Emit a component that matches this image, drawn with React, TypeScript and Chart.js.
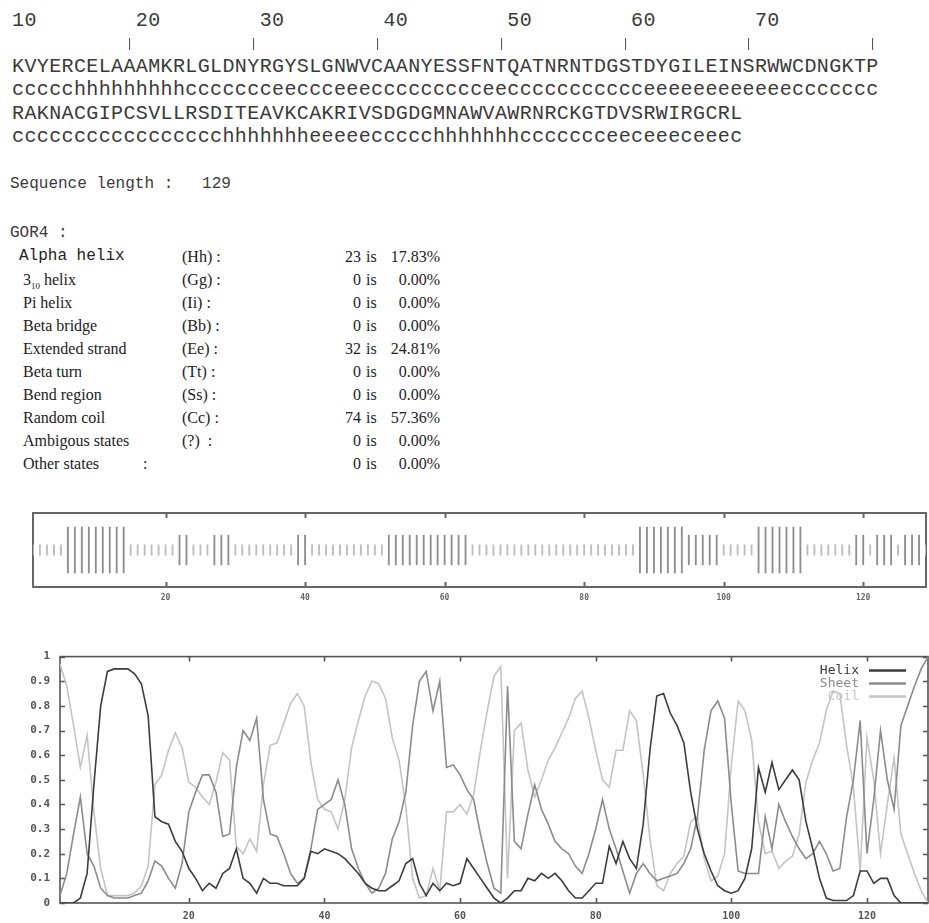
import React, { useEffect, useRef } from "react";
import { Chart, registerables } from "chart.js";

Chart.register(...registerables);

// ---------- data ----------
const SEQ_ROW1 = "KVYERCELAAAMKRLGLDNYRGYSLGNWVCAANYESSFNTQATNRNTDGSTDYGILEINSRWWCDNGKTP";
const SEQ_ROW2 = "RAKNACGIPCSVLLRSDITEAVKCAKRIVSDGDGMNAWVAWRNRCKGTDVSRWIRGCRL";
const PRED_ROW1 = ["ccccc", "hhhhhhhhh", "ccccccc", "ee", "ccc", "eee", "ccccccccc", "ee", "ccccccccccc", "eeeeeeeeeeee", "ccccccc"].join("");
const PRED_ROW2 = ["ccccccccccccccccc", "hhhhhhh", "eeeee", "ccccc", "hhhhhhh", "ccccccc", "ee", "c", "eee", "c", "eee", "c"].join("");
const POSITION_LABELS = [10, 20, 30, 40, 50, 60, 70];
const SEQUENCE_LENGTH = 129;

const statNames = ["Alpha helix", "3_10 helix", "Pi helix", "Beta bridge", "Extended strand", "Beta turn", "Bend region", "Random coil", "Ambigous states", "Other states"];
const statCodes = ["(Hh) :", "(Gg) :", "(Ii) :", "(Bb) :", "(Ee) :", "(Tt) :", "(Ss) :", "(Cc) :", "(?)  :", ":"];
const statCounts = [23, 0, 0, 0, 32, 0, 0, 74, 0, 0];
const statPercents = ["17.83%", "0.00%", "0.00%", "0.00%", "24.81%", "0.00%", "0.00%", "57.36%", "0.00%", "0.00%"];

const residues = (SEQ_ROW1 + SEQ_ROW2).split("").map((_, i) => i + 1);
const prediction = (PRED_ROW1 + PRED_ROW2).split("");

const helix = [
  0.00, 0.00, 0.00, 0.02, 0.12, 0.48, 0.80, 0.94, 0.95, 0.95,
  0.95, 0.93, 0.89, 0.76, 0.35, 0.33, 0.32, 0.25, 0.21, 0.14,
  0.10, 0.05, 0.08, 0.06, 0.12, 0.14, 0.22, 0.10, 0.08, 0.04,
  0.10, 0.08, 0.08, 0.07, 0.07, 0.07, 0.10, 0.21, 0.20, 0.22,
  0.21, 0.20, 0.18, 0.15, 0.12, 0.08, 0.06, 0.05, 0.05, 0.07,
  0.09, 0.16, 0.18, 0.08, 0.03, 0.08, 0.05, 0.08, 0.07, 0.08,
  0.18, 0.14, 0.10, 0.06, 0.02, 0.00, 0.02, 0.05, 0.05, 0.10,
  0.09, 0.12, 0.10, 0.12, 0.09, 0.05, 0.02, 0.02, 0.05, 0.08,
  0.08, 0.23, 0.16, 0.25, 0.18, 0.14, 0.32, 0.62, 0.84, 0.85,
  0.77, 0.72, 0.65, 0.45, 0.30, 0.20, 0.13, 0.07, 0.05, 0.04,
  0.05, 0.10, 0.22, 0.55, 0.45, 0.57, 0.46, 0.50, 0.54, 0.50,
  0.33, 0.22, 0.10, 0.02, 0.01, 0.01, 0.01, 0.03, 0.13, 0.13,
  0.08, 0.10, 0.10, 0.03, 0.00, 0.00, 0.00, 0.00, 0.00,
];

const sheet = [
  0.03, 0.12, 0.28, 0.43, 0.20, 0.15, 0.06, 0.03, 0.02, 0.02,
  0.02, 0.03, 0.04, 0.09, 0.17, 0.15, 0.10, 0.06, 0.16, 0.37,
  0.45, 0.52, 0.52, 0.45, 0.27, 0.28, 0.55, 0.70, 0.66, 0.75,
  0.42, 0.28, 0.27, 0.20, 0.12, 0.08, 0.10, 0.22, 0.38, 0.40,
  0.42, 0.50, 0.40, 0.22, 0.14, 0.08, 0.04, 0.06, 0.12, 0.26,
  0.33, 0.45, 0.72, 0.90, 0.94, 0.78, 0.90, 0.55, 0.56, 0.52,
  0.46, 0.42, 0.28, 0.16, 0.06, 0.04, 0.88, 0.25, 0.22, 0.36,
  0.48, 0.38, 0.32, 0.25, 0.22, 0.20, 0.15, 0.12, 0.20, 0.30,
  0.42, 0.30, 0.22, 0.13, 0.04, 0.12, 0.16, 0.12, 0.09, 0.10,
  0.11, 0.12, 0.16, 0.22, 0.35, 0.62, 0.78, 0.82, 0.75, 0.40,
  0.13, 0.12, 0.12, 0.12, 0.35, 0.22, 0.40, 0.33, 0.27, 0.22,
  0.18, 0.20, 0.25, 0.20, 0.13, 0.14, 0.35, 0.50, 0.74, 0.20,
  0.42, 0.70, 0.50, 0.38, 0.72, 0.80, 0.88, 0.95, 1.00,
];

const coil = [
  0.97, 0.88, 0.72, 0.55, 0.68, 0.37, 0.14, 0.03, 0.03, 0.03,
  0.03, 0.04, 0.07, 0.15, 0.48, 0.52, 0.62, 0.69, 0.63, 0.49,
  0.47, 0.43, 0.40, 0.49, 0.61, 0.58, 0.23, 0.20, 0.26, 0.21,
  0.48, 0.64, 0.65, 0.73, 0.81, 0.85, 0.80, 0.57, 0.42, 0.38,
  0.37, 0.30, 0.42, 0.63, 0.74, 0.84, 0.90, 0.89, 0.83, 0.67,
  0.58, 0.39, 0.10, 0.02, 0.03, 0.14, 0.05, 0.37, 0.37, 0.40,
  0.36, 0.44, 0.62, 0.78, 0.92, 0.96, 0.10, 0.70, 0.73, 0.54,
  0.43, 0.50, 0.58, 0.63, 0.69, 0.75, 0.83, 0.86, 0.75, 0.62,
  0.50, 0.47, 0.62, 0.62, 0.78, 0.74, 0.52, 0.26, 0.07, 0.05,
  0.12, 0.16, 0.19, 0.33, 0.35, 0.18, 0.09, 0.11, 0.20, 0.56,
  0.82, 0.78, 0.66, 0.33, 0.20, 0.21, 0.14, 0.17, 0.19, 0.28,
  0.49, 0.58, 0.65, 0.78, 0.86, 0.85, 0.64, 0.47, 0.13, 0.67,
  0.50, 0.20, 0.40, 0.59, 0.28, 0.20, 0.12, 0.05, 0.00,
];

const xTicks = [20, 40, 60, 80, 100, 120];
const yTicks = [0, 0.1, 0.2, 0.3, 0.4, 0.5, 0.6, 0.7, 0.8, 0.9, 1];

// ---------- styles ----------
const HELIX_COLOR = "#3c3c3c";
const SHEET_COLOR = "#8c8c8c";
const COIL_COLOR = "#c4c4c4";
const MONO = "'Liberation Mono', 'DejaVu Sans Mono', monospace";
const SERIF = "'Liberation Serif', 'Times New Roman', serif";
const TICK_FONT = "'DejaVu Sans Mono', monospace";
const TEXT_COLOR = "#3a3a3a";
const CHAR_W = 12.38;

// bar extents for the per-residue barcode, by predicted state
const STATE_EXTENT: Record<string, [number, number]> = { h: [0.19, 0.81], e: [0.3, 0.7], c: [0.43, 0.57] };
const STATE_COLOR: Record<string, string> = { h: "#8e8e8e", e: "#8e8e8e", c: "#bdbdbd" };

function makeFramePlugin(opts: { yTicks: boolean; tickLen: number; color: string; width: number }) {
  return {
    id: "frame",
    beforeDatasetsDraw(chart: any) {
      const { ctx, chartArea: a, scales } = chart;
      ctx.save();
      ctx.strokeStyle = opts.color;
      ctx.lineWidth = opts.width;
      ctx.strokeRect(a.left, a.top, a.right - a.left, a.bottom - a.top);
      ctx.beginPath();
      const xs = scales.x;
      xs.ticks.forEach((t: any) => {
        const px = Math.round(xs.getPixelForValue(t.value)) + 0.5;
        ctx.moveTo(px, a.top);
        ctx.lineTo(px, a.top + opts.tickLen);
        ctx.moveTo(px, a.bottom);
        ctx.lineTo(px, a.bottom - opts.tickLen);
      });
      if (opts.yTicks) {
        const ys = scales.y;
        ys.ticks.forEach((t: any) => {
          const py = Math.round(ys.getPixelForValue(t.value)) + 0.5;
          ctx.moveTo(a.left, py);
          ctx.lineTo(a.left + opts.tickLen, py);
          ctx.moveTo(a.right, py);
          ctx.lineTo(a.right - opts.tickLen, py);
        });
      }
      ctx.stroke();
      ctx.restore();
    },
  };
}

const legendPlugin = {
  id: "gnuLegend",
  afterDraw(chart: any) {
    const { ctx, chartArea: a } = chart;
    ctx.save();
    ctx.font = `13px ${TICK_FONT}`;
    ctx.textAlign = "right";
    ctx.textBaseline = "middle";
    chart.data.datasets.forEach((ds: any, i: number) => {
      const y = a.top + 14 + i * 13;
      ctx.fillStyle = ds.borderColor;
      ctx.fillText(ds.label, a.right - 69, y);
      ctx.strokeStyle = ds.borderColor;
      ctx.lineWidth = 2.5;
      ctx.beginPath();
      ctx.moveTo(a.right - 59, y);
      ctx.lineTo(a.right - 22, y);
      ctx.stroke();
    });
    ctx.restore();
  },
};

function BarcodeChart() {
  const ref = useRef<HTMLCanvasElement>(null);
  useEffect(() => {
    const chart = new Chart(ref.current as HTMLCanvasElement, {
      type: "bar",
      data: {
        datasets: [
          {
            label: "Prediction",
            data: residues.map((r, i) => ({ x: r, y: STATE_EXTENT[prediction[i]] })) as any,
            backgroundColor: prediction.map((p) => STATE_COLOR[p]),
            borderWidth: 0,
            barThickness: 1.2,
            grouped: false,
          } as any,
        ],
      },
      options: {
        animation: false,
        responsive: false,
        maintainAspectRatio: false,
        layout: { padding: { left: 33, right: 3, top: 13, bottom: 0 } },
        plugins: { legend: { display: false }, tooltip: { enabled: false } },
        scales: {
          x: {
            type: "linear",
            min: 1,
            max: 129,
            offset: false,
            grid: { display: false, drawTicks: false },
            border: { display: false },
            afterBuildTicks: (s: any) => {
              s.ticks = xTicks.map((v) => ({ value: v }));
            },
            afterFit: (s: any) => {
              s.height = 23;
            },
            ticks: { font: { family: TICK_FONT, size: 8, weight: "bold" }, color: "#666", padding: 6, maxRotation: 0, autoSkip: false },
          },
          y: { min: 0, max: 1, display: false },
        },
      } as any,
      plugins: [makeFramePlugin({ yTicks: false, tickLen: 5, color: "#666", width: 2 })],
    });
    return () => chart.destroy();
  }, []);
  return <canvas ref={ref} width={929} height={110} style={{ position: "absolute", left: 0, top: 500, width: 929, height: 110 }} />;
}

function ProfileChart() {
  const ref = useRef<HTMLCanvasElement>(null);
  useEffect(() => {
    const mk = (label: string, values: number[], color: string) => ({
      label,
      data: residues.map((r, i) => ({ x: r, y: values[i] })),
      borderColor: color,
      backgroundColor: color,
      borderWidth: 1.6,
      pointRadius: 0,
      tension: 0,
      fill: false,
    });
    const chart = new Chart(ref.current as HTMLCanvasElement, {
      type: "line",
      data: {
        datasets: [mk("Helix", helix, HELIX_COLOR), mk("Sheet", sheet, SHEET_COLOR), mk("Coil", coil, COIL_COLOR)] as any,
      },
      options: {
        animation: false,
        responsive: false,
        maintainAspectRatio: false,
        layout: { padding: { left: 0, right: 1, top: 13, bottom: 0 } },
        plugins: { legend: { display: false }, tooltip: { enabled: false } },
        scales: {
          x: {
            type: "linear",
            min: 1,
            max: 129,
            grid: { display: false, drawTicks: false },
            border: { display: false },
            afterBuildTicks: (s: any) => {
              s.ticks = xTicks.map((v) => ({ value: v }));
            },
            afterFit: (s: any) => {
              s.height = 20;
            },
            ticks: { font: { family: TICK_FONT, size: 10, weight: "bold" }, color: "#555", padding: 7, maxRotation: 0, autoSkip: false },
          },
          y: {
            min: 0,
            max: 1,
            grid: { display: false, drawTicks: false },
            border: { display: false },
            afterBuildTicks: (s: any) => {
              s.ticks = yTicks.map((v) => ({ value: v }));
            },
            afterFit: (s: any) => {
              s.width = 60;
            },
            ticks: {
              font: { family: TICK_FONT, size: 11, weight: "bold" },
              color: "#555",
              padding: 10,
              autoSkip: false,
              callback: (v: any) => (v === 0 ? "0" : v === 1 ? "1" : Number(v).toFixed(1)),
            },
          },
        },
      } as any,
      plugins: [makeFramePlugin({ yTicks: true, tickLen: 5, color: "#555", width: 1.6 }), legendPlugin],
    });
    return () => chart.destroy();
  }, []);
  return <canvas ref={ref} width={929} height={283} style={{ position: "absolute", left: 0, top: 640, width: 929, height: 283 }} />;
}

function StatName({ name }: { name: string }) {
  if (name.includes("_")) {
    const [lead, rest] = name.split("_");
    const sub = rest.split(" ")[0];
    const tail = rest.slice(sub.length);
    return (
      <span>
        {lead}
        <span style={{ fontSize: 9, position: "relative", top: 4 }}>{sub}</span>
        {tail}
      </span>
    );
  }
  return <span>{name}</span>;
}

export default function App() {
  const labelsRow = POSITION_LABELS.map((n) => String(n).padEnd(10, " ")).join("").trimEnd();
  const seqStyle: React.CSSProperties = {
    position: "absolute",
    left: 12,
    fontFamily: MONO,
    fontSize: 20,
    letterSpacing: "0.38px",
    lineHeight: "24px",
    whiteSpace: "pre",
    color: TEXT_COLOR,
  };
  const rowCenter0 = 256;
  const rowStep = 23;
  return (
    <div style={{ position: "absolute", left: 0, top: 0, width: 929, height: 923, overflow: "hidden", background: "#fff" }}>
      <div style={{ ...seqStyle, top: 9 }}>{labelsRow}</div>
      {POSITION_LABELS.map((n) => (
        <div
          key={`pipe-${n}`}
          style={{
            position: "absolute",
            left: Math.round(12 + (n - 1) * CHAR_W + 3),
            top: 36,
            fontFamily: MONO,
            fontSize: 12,
            lineHeight: "16px",
            color: "#444",
            opacity: 0.99,
            willChange: "transform",
          }}
        >
          |
        </div>
      ))}
      <div style={{ ...seqStyle, top: 55 }}>{SEQ_ROW1}</div>
      <div style={{ ...seqStyle, top: 78 }}>{PRED_ROW1}</div>
      <div style={{ ...seqStyle, top: 102 }}>{SEQ_ROW2}</div>
      <div style={{ ...seqStyle, top: 125 }}>{PRED_ROW2}</div>

      <div style={{ position: "absolute", left: 10, top: 174, fontFamily: MONO, fontSize: 16, lineHeight: "20px", whiteSpace: "pre", color: TEXT_COLOR }}>
        {`Sequence length :   ${SEQUENCE_LENGTH}`}
      </div>
      <div style={{ position: "absolute", left: 10, top: 223, fontFamily: MONO, fontSize: 16, lineHeight: "20px", whiteSpace: "pre", color: TEXT_COLOR }}>
        {"GOR4 :"}
      </div>

      {statNames.map((name, i) => {
        const top = rowCenter0 + i * rowStep - 11.5;
        const common: React.CSSProperties = { position: "absolute", top, lineHeight: "23px", height: 23, whiteSpace: "pre", color: "#222" };
        return (
          <React.Fragment key={name}>
            <div style={{ ...common, left: i === 0 ? 19 : 23, fontFamily: i === 0 ? MONO : SERIF, fontSize: 16 }}>
              <StatName name={name} />
            </div>
            <div style={{ ...common, left: i === statNames.length - 1 ? 143 : 182, fontFamily: SERIF, fontSize: 16 }}>{statCodes[i]}</div>
            <div style={{ ...common, left: 300, width: 61, textAlign: "right", fontFamily: SERIF, fontSize: 16 }}>{String(statCounts[i])}</div>
            <div style={{ ...common, left: 366, fontFamily: SERIF, fontSize: 16 }}>is</div>
            <div style={{ ...common, left: 380, width: 60, textAlign: "right", fontFamily: SERIF, fontSize: 16 }}>{statPercents[i]}</div>
          </React.Fragment>
        );
      })}

      <BarcodeChart />
      <ProfileChart />
    </div>
  );
}
